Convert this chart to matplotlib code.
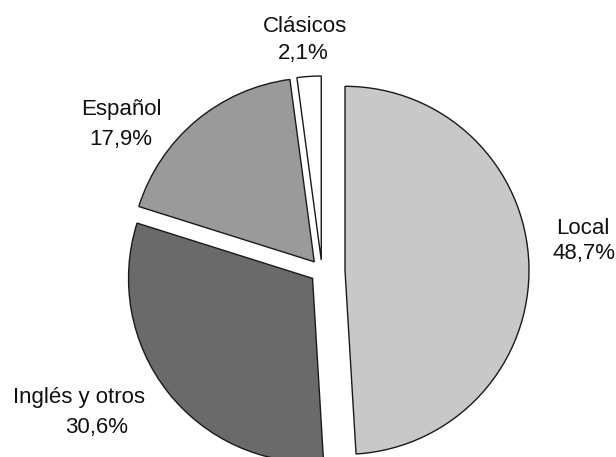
import matplotlib
matplotlib.use("Agg")
import matplotlib.pyplot as plt

# Data
categories = ["Local", "Inglés y otros", "Español", "Clásicos"]
shares = [48.7, 30.6, 17.9, 2.1]
share_labels = ["48,7%", "30,6%", "17,9%", "2,1%"]

# Styling / layout (pixel units, image coordinates)
colors = ["#c8c8c8", "#6a6a6a", "#9a9a9a", "#ffffff"]
explode = [23, 12, 12, 11]
W, H = 616, 457
center = (322, H - 271)
radius = 184
name_pos = [(583, 228), (79, 398), (121, 109), (305, 27)]
pct_pos = [(584, 254), (97, 428), (121, 139), (303, 53)]

plt.rcParams['font.family'] = ['Liberation Sans', 'DejaVu Sans']

fig = plt.figure(figsize=(W / 100, H / 100), dpi=100)
ax = fig.add_axes([0, 0, 1, 1])
ax.pie(shares, colors=colors, explode=explode, startangle=90, counterclock=False,
       center=center, radius=radius,
       wedgeprops=dict(edgecolor="#1a1a1a", linewidth=1.0))
ax.set_xlim(0, W)
ax.set_ylim(0, H)
ax.set_aspect('equal')
ax.axis('off')

for i, (cat, lab) in enumerate(zip(categories, share_labels)):
    x, y = name_pos[i]
    ax.text(x, H - y, cat, ha="center", va="center", fontsize=16, color="#111111")
    x, y = pct_pos[i]
    ax.text(x, H - y, lab, ha="center", va="center", fontsize=16, color="#111111")

fig.savefig("out.png", dpi=100, facecolor="white")
